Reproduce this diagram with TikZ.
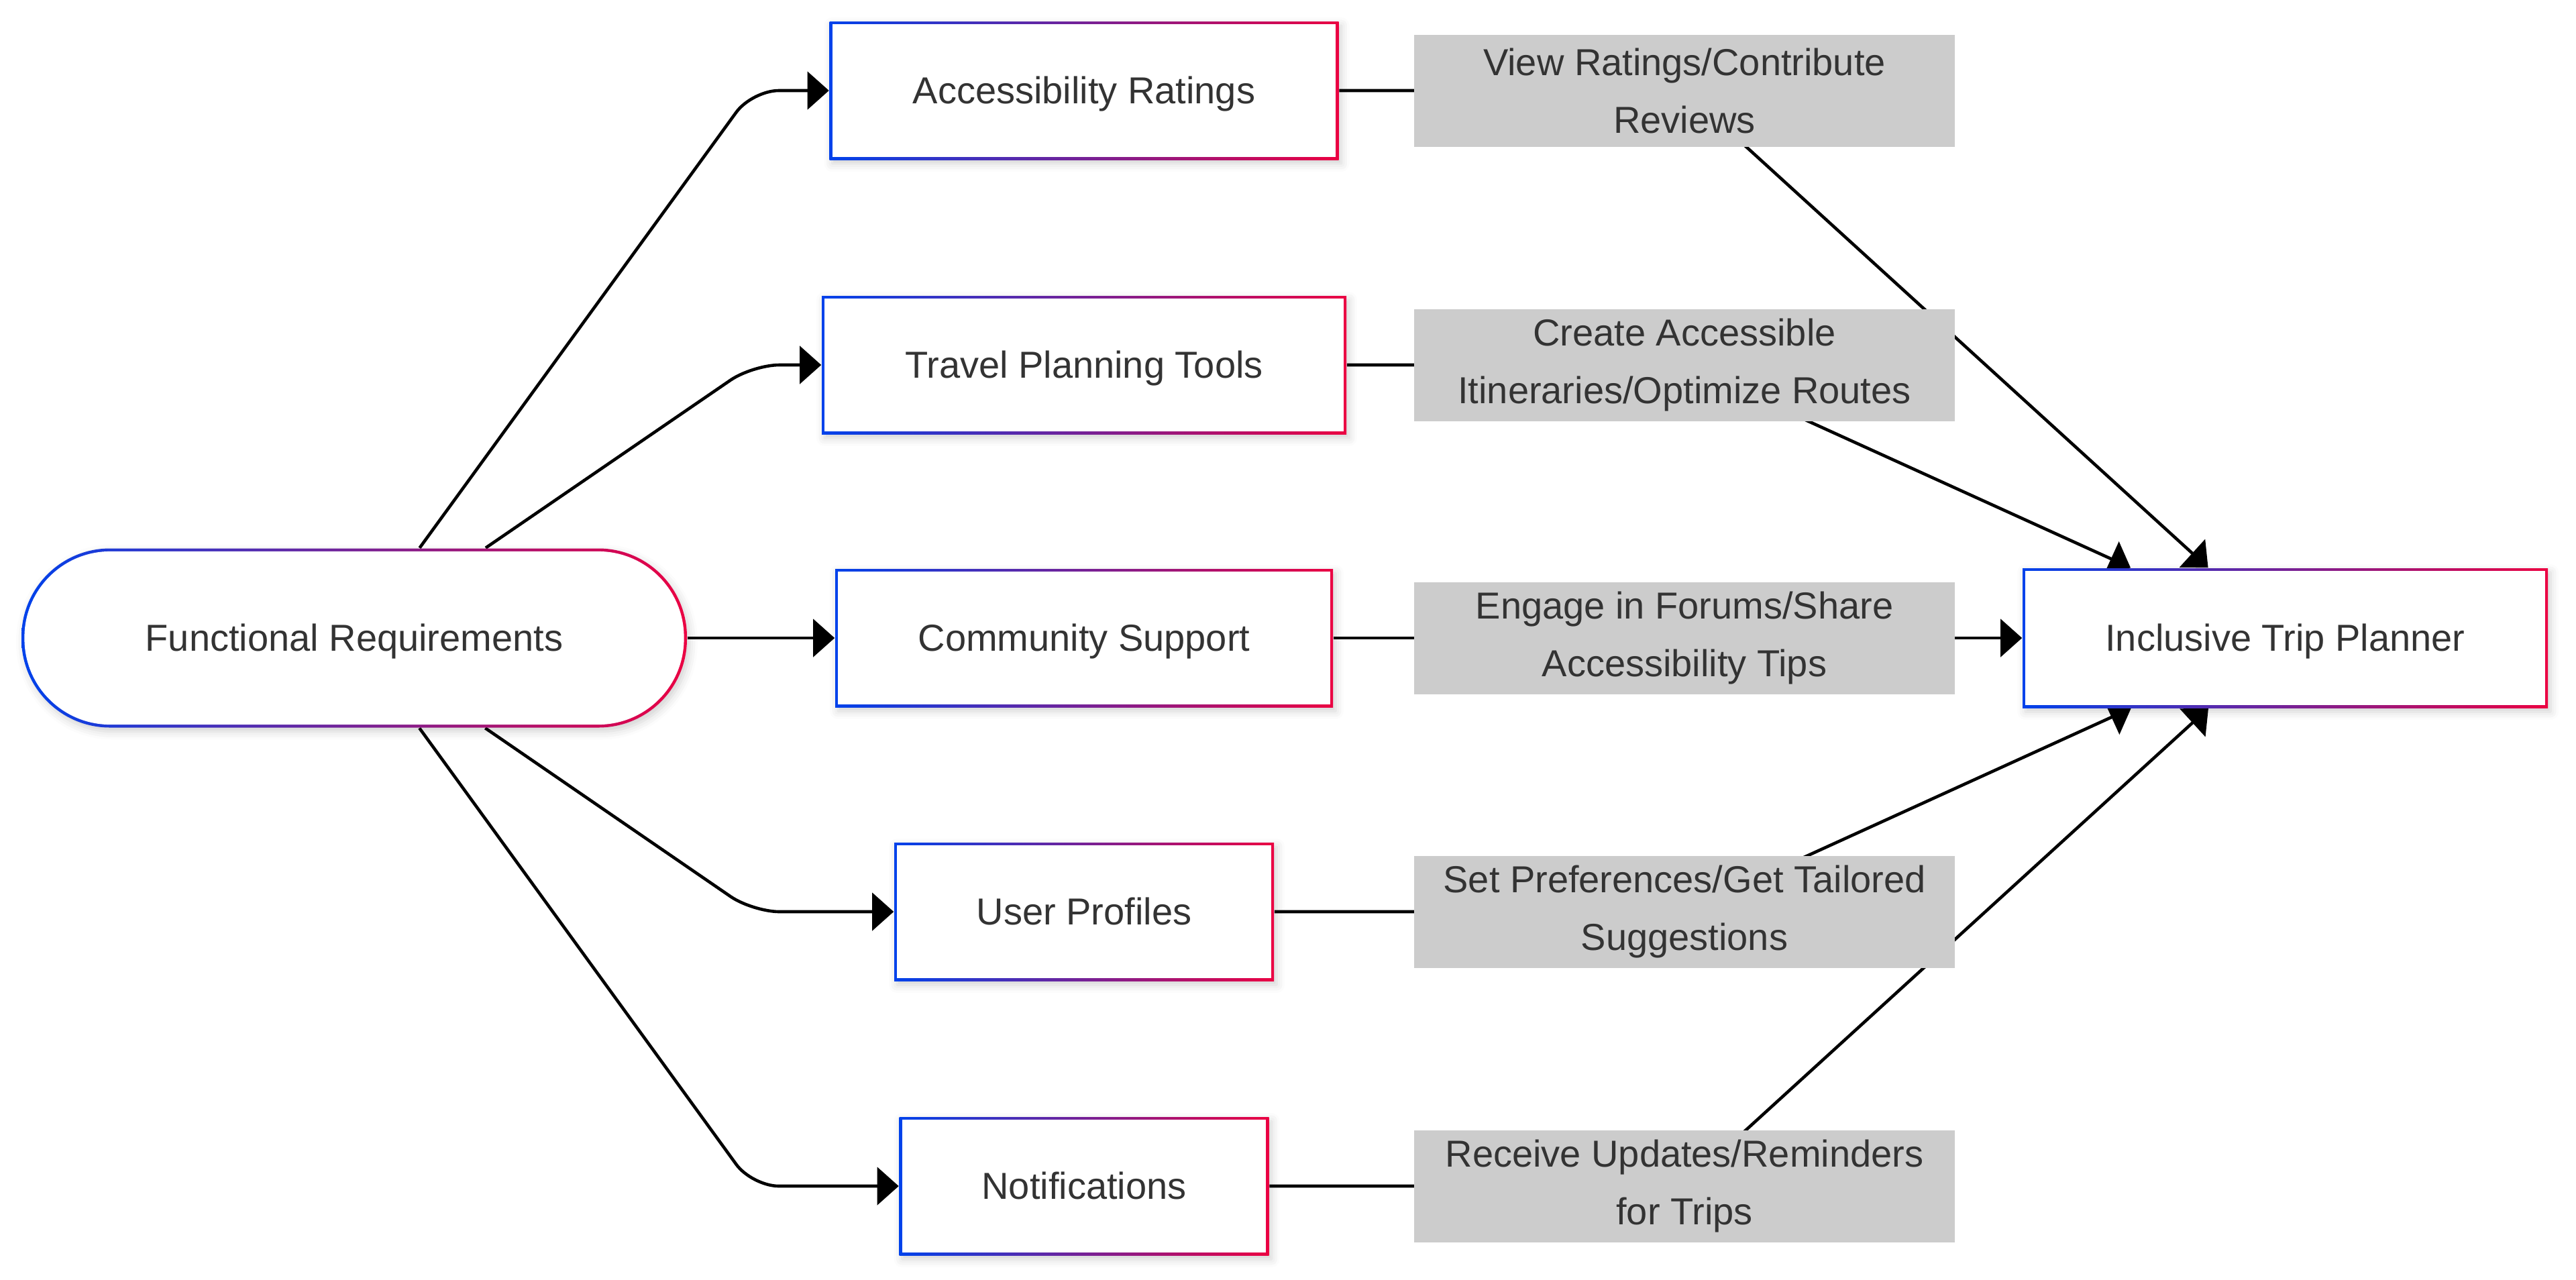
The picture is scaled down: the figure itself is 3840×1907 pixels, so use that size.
\documentclass[tikz,border=0pt]{standalone}
\usepackage{fontspec}
\setmainfont{Liberation Sans}
\usetikzlibrary{arrows.meta,backgrounds,shadows.blur}
\definecolor{gblue}{RGB}{0,66,235}
\definecolor{gred}{RGB}{235,0,66}
\definecolor{txt}{RGB}{51,51,51}
\definecolor{lblgray}{RGB}{204,204,204}
\tikzset{
  gshadow/.style={blur shadow={shadow xshift=1pt, shadow yshift=-1.5pt, shadow blur radius=3pt, shadow opacity=18}},
  gbox/.style={rectangle, minimum height=51.5pt, inner sep=0pt, text=txt,
    text height=10pt, text depth=0.5pt,
    font=\fontsize{14}{17}\selectfont, gshadow,
    path picture={
      \shade[left color=gblue, right color=gred] (path picture bounding box.south west) rectangle (path picture bounding box.north east);
      \fill[white] ([shift={(1.1pt,1.1pt)}]path picture bounding box.south west) rectangle ([shift={(-1.1pt,-1.1pt)}]path picture bounding box.north east);
    }},
  gstadium/.style={rectangle, rounded corners=33pt, minimum width=248pt, minimum height=66.75pt, inner sep=0pt, text=txt,
    text height=10pt, text depth=0.5pt,
    font=\fontsize{14}{17}\selectfont, gshadow,
    path picture={
      \shade[left color=gblue, right color=gred] (path picture bounding box.south west) rectangle (path picture bounding box.north east);
      \fill[white, rounded corners=32pt] ([shift={(1.1pt,1.1pt)}]path picture bounding box.south west) rectangle ([shift={(-1.1pt,-1.1pt)}]path picture bounding box.north east);
    }},
  elabel/.style={rectangle, fill=lblgray, minimum width=201.5pt, minimum height=41.75pt, inner sep=0pt,
    text=txt, align=center, font=\fontsize{14}{21.5}\selectfont},
  edge/.style={draw=black, line width=1.15pt, -{Triangle[length=8pt,width=14pt]}},
}
\begin{document}
\begin{tikzpicture}[x=0.25pt, y=-0.25pt]
\useasboundingbox (0,0) rectangle (3840,1907);

\node[gstadium] (FR) at (528,951) {Functional Requirements};
\node[gbox, minimum width=189.75pt] (AR) at (1616,135) {Accessibility Ratings};
\node[gbox, minimum width=195.5pt] (TPT) at (1616,544) {Travel Planning Tools};
\node[gbox, minimum width=185.5pt] (CS) at (1616,951) {Community Support};
\node[gbox, minimum width=141.5pt] (UP) at (1616,1359) {User Profiles};
\node[gbox, minimum width=137.75pt] (NO) at (1616,1768) {Notifications};
\node[gbox, minimum width=195.75pt, minimum height=52pt] (ITP) at (3406.5,951) {Inclusive Trip Planner};

\node[elabel] (L1) at (2511,135) {View Ratings/Contribute\\Reviews};
\node[elabel] (L2) at (2511,544) {Create Accessible\\Itineraries/Optimize Routes};
\node[elabel] (L3) at (2511,951) {Engage in Forums/Share\\Accessibility Tips};
\node[elabel] (L4) at (2511,1359) {Set Preferences/Get Tailored\\Suggestions};
\node[elabel] (L5) at (2511,1768) {Receive Updates/Reminders\\for Trips};

\begin{scope}[on background layer]
  \draw[edge, rounded corners=10pt] (FR) -- (1121,0 |- AR.west) -- (AR.west);
  \draw[edge, rounded corners=10pt] (FR) -- (1122,0 |- TPT.west) -- (TPT.west);
  \draw[edge] (FR.east) -- (CS.west);
  \draw[edge, rounded corners=10pt] (FR) -- (1122,0 |- UP.west) -- (UP.west);
  \draw[edge, rounded corners=10pt] (FR) -- (1121,0 |- NO.west) -- (NO.west);

  \draw[edge] (AR.east) -- (L1.center) -- (ITP);
  \draw[edge] (TPT.east) -- (L2.center) -- (ITP);
  \draw[edge] (CS.east) -- (ITP.west);
  \draw[edge] (UP.east) -- (L4.center) -- (ITP);
  \draw[edge] (NO.east) -- (L5.center) -- (ITP);
\end{scope}
\end{tikzpicture}
\end{document}
